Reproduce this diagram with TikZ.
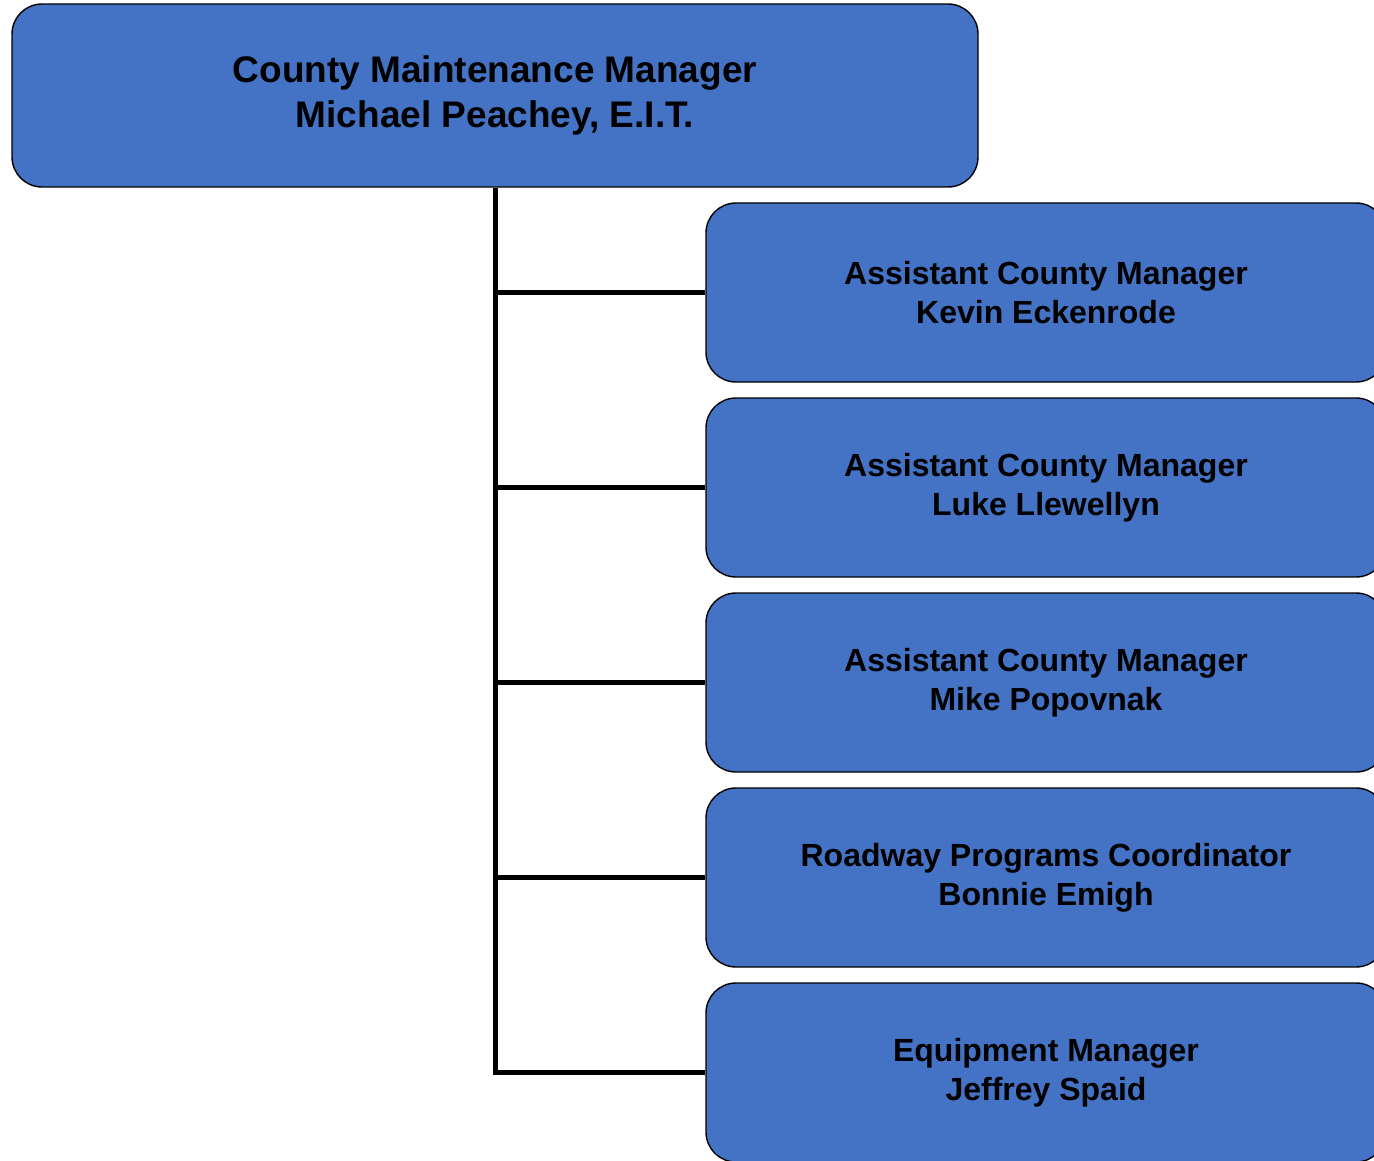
\documentclass[tikz,border=0pt]{standalone}
\usepackage{fontspec}
\setmainfont{Liberation Sans}
\usepackage{tikz}
\usetikzlibrary{positioning}
\definecolor{boxblue}{HTML}{4472C4}

\begin{document}
\begin{tikzpicture}[
    x=1pt, y=-1pt,
    box/.style={draw=black, line width=1.4pt, fill=boxblue, rounded corners=30pt,
                align=center, inner sep=0pt},
    mgrbox/.style={box, minimum width=966pt, minimum height=183pt,
                   font=\fontsize{37}{45}\selectfont\bfseries},
    asstbox/.style={box, minimum width=680pt, minimum height=179pt,
                    font=\fontsize{32}{39}\selectfont\bfseries},
    link/.style={line width=5pt},
  ]
    \useasboundingbox (0,0) rectangle (1374,1161);
    \clip (0,0) rectangle (1374,1161);

    \node[mgrbox] (mgr) at (495,95.5) {County Maintenance Manager\\Michael Peachey, E.I.T.};

    \node[asstbox] (a1) at (1046,292.5)  {Assistant County Manager\\Kevin Eckenrode};
    \node[asstbox] (a2) at (1046,487.5)  {Assistant County Manager\\Luke Llewellyn};
    \node[asstbox] (a3) at (1046,682.5)  {Assistant County Manager\\Mike Popovnak};
    \node[asstbox] (a4) at (1046,877.5)  {Roadway Programs Coordinator\\Bonnie Emigh};
    \node[asstbox] (a5) at (1046,1072.5) {Equipment Manager\\Jeffrey Spaid};

    \draw[link] (mgr.south) |- (a5.west);
    \foreach \a in {a1, a2, a3, a4} \draw[link] (mgr.south |- \a.west) -- (\a.west);
  \end{tikzpicture}
\end{document}
